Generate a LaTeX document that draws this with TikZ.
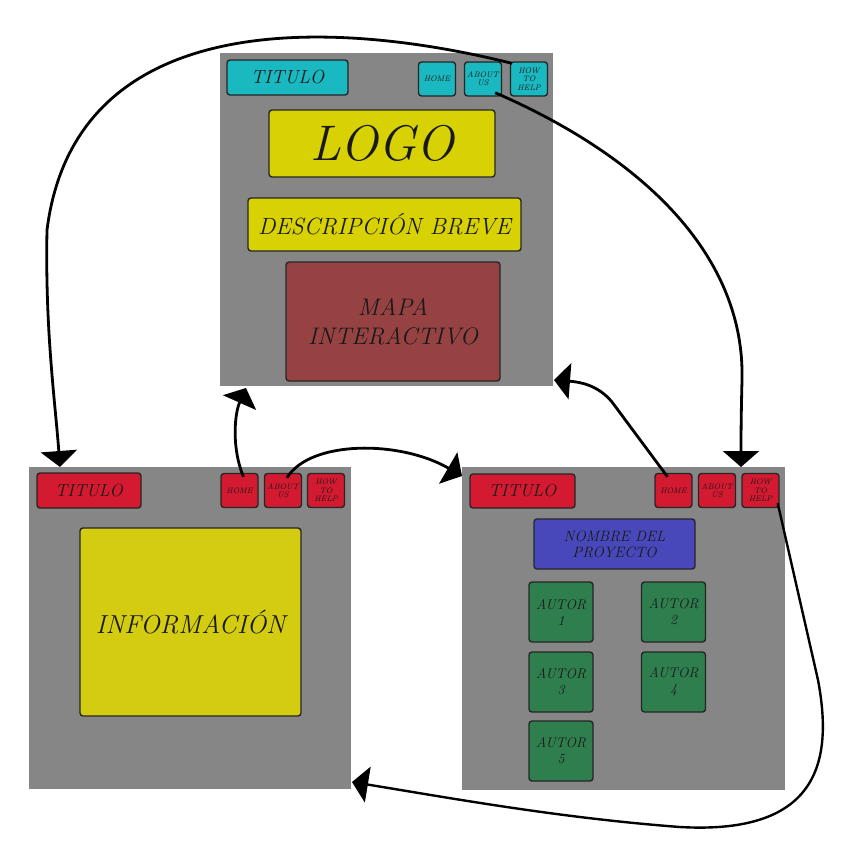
\documentclass[tikz,border=0pt]{standalone}
\usetikzlibrary{arrows.meta,calc}
\definecolor{panelgray}{RGB}{134,134,134}
\definecolor{cyanbox}{RGB}{26,184,192}
\definecolor{yellowbox}{RGB}{216,210,4}
\definecolor{yellowinfo}{RGB}{212,204,16}
\definecolor{mapred}{RGB}{150,66,66}
\definecolor{redbox}{RGB}{212,26,48}
\definecolor{bluebox}{RGB}{72,72,186}
\definecolor{greenbox}{RGB}{46,126,78}
\definecolor{edgecol}{RGB}{38,38,38}
\begin{document}
\begin{tikzpicture}[x=1pt,y=-1pt,
  panel/.style={fill=panelgray,draw=none,minimum width=#1,minimum height=#1,inner sep=0pt,outer sep=0pt},
  box/.style={draw=edgecol,line width=1.4pt,rounded corners=3pt,inner sep=1pt,align=center,text=black!90,font=\itshape},
  btn/.style={box,minimum width=37pt,minimum height=34pt,font=\itshape\fontsize{8}{8.4}\selectfont},
  conn/.style={line width=2.8pt,-{Triangle[width=36pt,length=16pt]}}
]
\useasboundingbox (0,0) rectangle (856,841);
% panels
\node[panel=333pt] (tp) at (386.5,219.5) {};
\node[panel=322pt] (bl) at (190,628) {};
\node[panel=323pt] (br) at (623.5,628.5) {};
% top panel
\node[box,fill=cyanbox,minimum width=121pt,minimum height=35pt,font=\itshape\fontsize{19}{20}\selectfont] (ttit) at (287.5,77.5) {TITULO};
\node[btn,fill=cyanbox] (thome) at (437,79) {HOME};
\node[btn,fill=cyanbox] (tabout) at (483,79) {ABOUT\\US};
\node[btn,fill=cyanbox] (thh) at (529,79) {HOW\\TO\\HELP};
\node[box,fill=yellowbox,minimum width=226pt,minimum height=67pt,font=\itshape\fontsize{50}{52}\selectfont] (logo) at (382,143.5) {LOGO};
\node[box,fill=yellowbox,minimum width=273pt,minimum height=53pt,font=\itshape\fontsize{23.5}{25}\selectfont] (desc) at (384.5,224.5) {DESCRIPCI\'ON BREVE};
\node[box,fill=mapred,minimum width=214pt,minimum height=119pt,font=\itshape\fontsize{24}{29}\selectfont] (mapa) at (393,321.5) {MAPA\\INTERACTIVO};
% bottom-left panel
\node[box,fill=redbox,minimum width=104pt,minimum height=35pt,font=\itshape\fontsize{17.5}{18}\selectfont] (ltit) at (89,490.5) {TITULO};
\node[btn,fill=redbox] (lhome) at (239.5,490.5) {HOME};
\node[btn,fill=redbox] (labout) at (283,490.5) {ABOUT\\US};
\node[btn,fill=redbox] (lhh) at (326,490.5) {HOW\\TO\\HELP};
\node[box,fill=yellowinfo,minimum width=221pt,minimum height=188pt,font=\itshape\fontsize{26}{28}\selectfont] (info) at (190.5,622) {INFORMACI\'ON};
% bottom-right panel
\node[box,fill=redbox,minimum width=105pt,minimum height=34pt,font=\itshape\fontsize{17.5}{18}\selectfont] (rtit) at (522.5,491) {TITULO};
\node[btn,fill=redbox] (rhome) at (673.5,490.5) {HOME};
\node[btn,fill=redbox] (rabout) at (717,490.5) {ABOUT\\US};
\node[btn,fill=redbox] (rhh) at (760.5,490.5) {HOW\\TO\\HELP};
\node[box,fill=bluebox,minimum width=161pt,minimum height=50pt,font=\itshape\fontsize{15}{16}\selectfont] (nombre) at (614.5,544) {NOMBRE DEL\\PROYECTO};
\tikzset{autor/.style={box,fill=greenbox,minimum width=64pt,minimum height=60pt,font=\itshape\fontsize{14}{16}\selectfont}}
\node[autor] (a1) at (561,612) {AUTOR\\1};
\node[autor] (a2) at (673.5,612) {AUTOR\\2};
\node[autor] (a3) at (561,682) {AUTOR\\3};
\node[autor] (a4) at (673.5,682) {AUTOR\\4};
\node[autor] (a5) at (561,751) {AUTOR\\5};
% connectors
\draw[conn] ($(thh.north west)+(2,2)$) .. controls (330,18) and (75,8) .. (47,230)
   .. controls (45,330) and (55,400) .. ($(bl.north west)+(31,0)$);
\draw[conn] ($(tabout.south east)+(-7,-4)$) .. controls (650,160) and (745,260) .. (742,380)
   .. controls (741,420) and (741,440) .. ($(br.north west)+(279,0)$);
\draw[conn] ($(lhome.north)+(4,4)$) .. controls (232,450) and (234,415) .. ($(tp.south west)+(26,2)$);
\draw[conn] ($(labout.north)+(4,5)$) .. controls (310,440) and (400,440) .. ($(br.north west)+(0,9)$);
\draw[conn] ($(rhome.north)+(-6,4)$) -- (612,402) .. controls (598,385) and (580,382) .. ($(tp.south east)+(1,-6)$);
\draw[conn,line width=2.4pt] ($(rhh.south east)+(-2,-5)$) -- (818,680) .. controls (833,760) and (820,835) .. (680,827)
   .. controls (560,818) and (450,798) .. ($(bl.south east)+(1,-7)$);
\end{tikzpicture}
\end{document}
